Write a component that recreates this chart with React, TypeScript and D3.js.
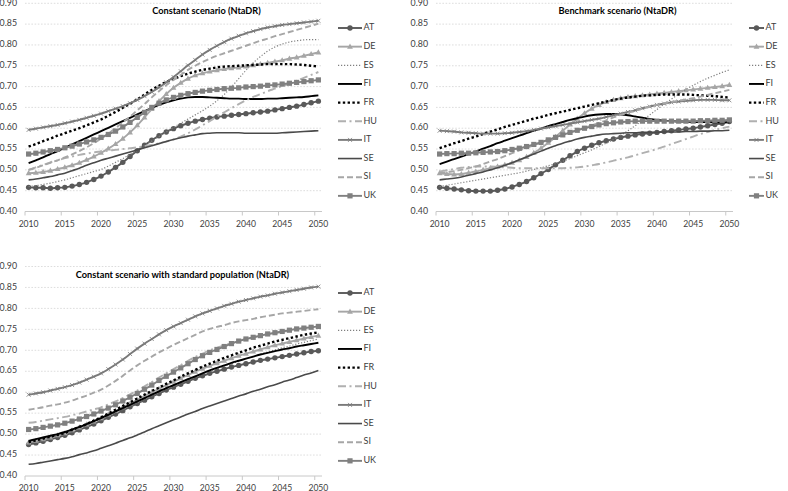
import React from "react";
import * as d3 from "d3";

const years = [2010,2011,2012,2013,2014,2015,2016,2017,2018,2019,2020,2021,2022,2023,2024,2025,2026,2027,2028,2029,2030,2031,2032,2033,2034,2035,2036,2037,2038,2039,2040,2041,2042,2043,2044,2045,2046,2047,2048,2049,2050];
const xTickYears = [2010,2015,2020,2025,2030,2035,2040,2045,2050];
const yTicks = [0.4,0.45,0.5,0.55,0.6,0.65,0.7,0.75,0.8,0.85,0.9];
const countries = ["AT","DE","ES","FI","FR","HU","IT","SE","SI","UK"];

// Constant scenario (NtaDR)
const cAT = [.458,.457,.457,.456,.457,.458,.461,.465,.470,.477,.485,.495,.506,.518,.532,.546,.559,.571,.582,.591,.599,.606,.612,.617,.621,.624,.627,.629,.631,.633,.635,.637,.639,.641,.644,.647,.650,.653,.657,.661,.665];
const cDE = [.492,.493,.495,.498,.502,.506,.511,.517,.524,.532,.541,.551,.562,.575,.590,.607,.626,.646,.665,.682,.697,.709,.719,.727,.732,.736,.739,.742,.744,.746,.748,.751,.754,.757,.760,.763,.767,.770,.774,.778,.782];
const cES = [.460,.462,.465,.468,.472,.476,.481,.486,.491,.496,.501,.509,.518,.527,.537,.547,.558,.569,.580,.591,.602,.612,.622,.632,.642,.653,.666,.681,.699,.719,.739,.757,.772,.785,.795,.802,.807,.810,.812,.813,.813];
const cFI = [.516,.523,.530,.538,.545,.553,.561,.569,.577,.585,.593,.601,.609,.617,.625,.633,.641,.649,.656,.662,.667,.671,.674,.675,.675,.674,.673,.672,.671,.671,.670,.670,.670,.671,.671,.672,.673,.674,.675,.677,.679];
const cFR = [.556,.562,.569,.575,.582,.588,.594,.600,.607,.614,.621,.630,.639,.649,.659,.669,.681,.692,.702,.711,.718,.725,.731,.736,.740,.743,.746,.748,.749,.750,.751,.752,.753,.754,.754,.754,.754,.753,.752,.750,.748];
const cHU = [.500,.506,.512,.518,.523,.528,.532,.536,.539,.542,.544,.546,.548,.550,.552,.554,.557,.560,.564,.568,.573,.580,.588,.597,.607,.617,.628,.638,.648,.658,.667,.675,.682,.689,.695,.701,.707,.714,.721,.728,.735];
const cIT = [.596,.599,.602,.605,.608,.612,.616,.620,.625,.630,.635,.641,.647,.653,.660,.668,.677,.687,.698,.710,.723,.737,.751,.764,.777,.788,.798,.807,.815,.822,.828,.833,.838,.842,.845,.848,.850,.852,.854,.856,.858];
const cSE = [.476,.478,.481,.484,.488,.492,.498,.504,.511,.517,.523,.528,.533,.538,.543,.548,.553,.558,.563,.568,.573,.577,.581,.584,.587,.588,.589,.589,.589,.589,.588,.588,.588,.588,.588,.589,.590,.591,.592,.593,.594];
const cSI = [.500,.505,.511,.517,.523,.530,.537,.545,.554,.564,.575,.587,.600,.614,.628,.643,.658,.674,.689,.703,.716,.728,.740,.750,.759,.767,.774,.780,.786,.792,.798,.804,.810,.815,.821,.826,.831,.836,.841,.846,.851];
const cUK = [.538,.540,.543,.546,.549,.553,.557,.562,.567,.572,.578,.585,.593,.603,.614,.626,.638,.650,.660,.668,.674,.679,.683,.686,.689,.691,.693,.695,.696,.697,.699,.700,.701,.703,.704,.706,.708,.710,.712,.714,.716];

// Benchmark scenario (NtaDR)
const bAT = [.458,.456,.454,.452,.450,.449,.449,.449,.451,.454,.459,.465,.472,.481,.491,.501,.512,.523,.534,.544,.552,.559,.565,.570,.574,.578,.581,.584,.586,.588,.590,.592,.594,.596,.598,.600,.603,.606,.609,.612,.616];
const bDE = [.492,.490,.489,.490,.493,.496,.500,.504,.508,.512,.517,.523,.531,.541,.552,.565,.579,.594,.609,.623,.636,.647,.656,.663,.668,.672,.675,.677,.679,.681,.683,.685,.687,.689,.691,.693,.695,.697,.699,.701,.704];
const bES = [.460,.463,.466,.469,.472,.475,.478,.481,.484,.487,.490,.493,.497,.501,.505,.510,.515,.521,.527,.534,.541,.548,.556,.564,.573,.583,.594,.606,.619,.632,.645,.658,.670,.682,.693,.703,.712,.720,.727,.734,.740];
const bFI = [.514,.520,.526,.532,.538,.544,.551,.557,.564,.570,.576,.582,.588,.594,.599,.605,.610,.615,.620,.624,.628,.631,.633,.634,.634,.633,.631,.628,.625,.622,.620,.618,.617,.616,.616,.615,.615,.615,.614,.614,.614];
const bFR = [.552,.558,.564,.569,.575,.580,.586,.592,.597,.603,.608,.613,.618,.623,.627,.632,.636,.640,.644,.648,.652,.656,.660,.664,.668,.671,.674,.676,.678,.679,.680,.681,.681,.681,.681,.680,.679,.678,.677,.675,.674];
const bHU = [.496,.499,.502,.505,.507,.508,.508,.508,.507,.506,.505,.504,.504,.504,.504,.504,.504,.504,.505,.506,.508,.511,.514,.518,.522,.526,.530,.535,.540,.545,.550,.556,.562,.568,.574,.580,.586,.591,.596,.600,.604];
const bIT = [.594,.593,.592,.590,.589,.588,.587,.587,.587,.588,.589,.591,.593,.596,.599,.602,.605,.608,.611,.614,.617,.620,.623,.627,.631,.635,.639,.643,.648,.652,.656,.659,.662,.664,.666,.667,.668,.668,.668,.667,.667];
const bSE = [.476,.478,.480,.483,.487,.491,.495,.500,.505,.511,.517,.524,.531,.538,.545,.552,.558,.564,.569,.574,.578,.581,.584,.586,.587,.588,.589,.589,.590,.590,.590,.591,.591,.591,.592,.592,.593,.593,.594,.594,.595];
const bSI = [.492,.494,.497,.500,.504,.508,.514,.520,.526,.533,.540,.547,.553,.559,.566,.572,.578,.584,.590,.595,.601,.607,.613,.619,.626,.632,.637,.642,.647,.652,.656,.660,.663,.666,.669,.672,.676,.680,.684,.688,.692];
const bUK = [.538,.539,.539,.540,.540,.541,.542,.543,.544,.546,.549,.552,.556,.561,.566,.572,.578,.584,.590,.595,.600,.604,.608,.611,.613,.615,.616,.617,.617,.617,.617,.617,.617,.617,.617,.617,.618,.618,.619,.619,.620];

// Constant scenario with standard population (NtaDR)
const sAT = [.475,.479,.483,.487,.492,.497,.503,.510,.517,.524,.532,.540,.548,.556,.565,.573,.581,.589,.597,.605,.612,.619,.626,.633,.639,.645,.650,.655,.660,.664,.668,.672,.676,.679,.682,.685,.688,.691,.694,.697,.699];
const sDE = [.480,.484,.488,.492,.497,.502,.509,.516,.523,.530,.538,.547,.555,.564,.573,.582,.591,.600,.608,.617,.625,.633,.641,.649,.656,.663,.669,.675,.681,.687,.692,.697,.702,.707,.712,.716,.720,.724,.728,.732,.735];
const sES = [.478,.482,.486,.490,.495,.500,.506,.513,.520,.527,.535,.543,.551,.559,.567,.575,.583,.591,.599,.607,.614,.621,.629,.636,.643,.650,.656,.662,.668,.674,.680,.685,.691,.696,.701,.706,.710,.715,.719,.723,.727];
const sFI = [.484,.488,.492,.496,.500,.505,.511,.517,.524,.531,.538,.546,.554,.562,.570,.578,.586,.594,.602,.610,.617,.624,.631,.638,.645,.652,.658,.664,.670,.675,.680,.685,.690,.694,.698,.702,.705,.709,.712,.715,.718];
const sFR = [.481,.485,.489,.494,.498,.503,.510,.517,.524,.532,.540,.549,.558,.567,.576,.585,.594,.603,.611,.620,.628,.637,.645,.653,.661,.668,.675,.682,.688,.694,.700,.706,.711,.716,.721,.725,.729,.733,.737,.740,.743];
const sHU = [.527,.529,.532,.535,.538,.541,.545,.549,.554,.559,.564,.571,.578,.586,.595,.604,.614,.624,.635,.645,.655,.665,.675,.684,.692,.700,.706,.712,.717,.722,.727,.731,.735,.738,.741,.744,.747,.750,.753,.755,.757];
const sIT = [.594,.597,.600,.604,.608,.612,.617,.623,.630,.637,.645,.655,.666,.678,.691,.704,.716,.727,.738,.748,.757,.765,.773,.781,.788,.794,.800,.806,.811,.816,.820,.824,.828,.831,.835,.838,.841,.844,.847,.850,.852];
const sSE = [.428,.430,.433,.436,.439,.442,.446,.451,.455,.460,.466,.472,.478,.485,.491,.498,.505,.513,.520,.527,.534,.541,.548,.554,.561,.567,.573,.579,.585,.591,.596,.602,.607,.613,.618,.624,.629,.635,.641,.646,.652];
const sSI = [.558,.561,.564,.568,.571,.575,.580,.586,.592,.599,.606,.616,.627,.639,.652,.664,.675,.685,.695,.704,.713,.721,.729,.737,.745,.751,.756,.760,.765,.769,.772,.775,.779,.782,.785,.788,.790,.792,.794,.796,.798];
const sUK = [.511,.513,.516,.519,.522,.526,.531,.536,.542,.548,.555,.562,.570,.579,.588,.597,.607,.617,.628,.638,.648,.658,.668,.678,.687,.695,.702,.709,.716,.722,.727,.731,.735,.739,.742,.745,.748,.751,.753,.755,.757];

type Style = { color: string; width: number; dash?: string; marker?: string };
const styles: Record<string, Style> = {
  AT: { color: "#595959", width: 1.9, marker: "circle" },
  DE: { color: "#a6a6a6", width: 1.9, marker: "triangle" },
  ES: { color: "#7f7f7f", width: 1.2, dash: "1.2 1.8" },
  FI: { color: "#000000", width: 1.9 },
  FR: { color: "#000000", width: 2.4, dash: "2.4 2.4" },
  HU: { color: "#b0b0b0", width: 1.9, dash: "8 3.5 2 3.5" },
  IT: { color: "#7a7a7a", width: 1.9, marker: "x" },
  SE: { color: "#4a4a4a", width: 1.6 },
  SI: { color: "#a6a6a6", width: 1.9, dash: "6 3" },
  UK: { color: "#808080", width: 1.9, marker: "square" },
};

const FONT = "Lato, 'DejaVu Sans', sans-serif";
const TEXT = "#404040";

function Marker({ type, x, y, color }: { type?: string; x: number; y: number; color: string }) {
  if (type === "circle") return <circle cx={x} cy={y} r={2.7} fill={color} />;
  if (type === "square") return <rect x={x - 2.6} y={y - 2.6} width={5.2} height={5.2} fill={color} />;
  if (type === "triangle") return <path d={`M${x},${y - 3.1}L${x + 2.9},${y + 2}L${x - 2.9},${y + 2}Z`} fill={color} />;
  if (type === "x") return <path d={`M${x - 2},${y - 2}L${x + 2},${y + 2}M${x - 2},${y + 2}L${x + 2},${y - 2}`} stroke={color} strokeWidth={0.8} />;
  return null;
}

type PanelProps = {
  title: string; titleX: number; titleY: number;
  data: Record<string, number[]>;
  left: number; right: number; top: number; bottom: number;
  legendX: number; legendLen: number; legendY: number;
};

function Panel(p: PanelProps) {
  const x = d3.scaleBand<number>().domain(years).range([p.left, p.right]);
  const bw = x.bandwidth();
  const cx = (yr: number) => (x(yr) as number) + bw / 2;
  const y = d3.scaleLinear().domain([0.4, 0.9]).range([p.bottom, p.top]);
  const line = d3.line<number>().x((_, i) => cx(years[i])).y((v) => y(v)).curve(d3.curveMonotoneX);
  return (
    <g>
      {yTicks.map((t) => (
        <g key={t}>
          {t > 0.41 && <line x1={p.left} x2={p.right} y1={y(t)} y2={y(t)} stroke="#d4d4d4" strokeWidth={0.8} strokeDasharray="1.6 1.6" />}
          <text x={p.left - 8} y={y(t)} textAnchor="end" dominantBaseline="middle" fontSize={8.8} fill={TEXT} fontFamily={FONT}>{t.toFixed(2)}</text>
        </g>
      ))}
      <line x1={p.left} x2={p.right} y1={p.bottom} y2={p.bottom} stroke="#c8c8c8" strokeWidth={1} />
      {xTickYears.map((yr) => (
        <g key={yr}>
          <line x1={x(yr) as number} x2={x(yr) as number} y1={p.bottom} y2={p.bottom + 4} stroke="#c8c8c8" strokeWidth={1} />
          <text x={cx(yr)} y={p.bottom + 13} textAnchor="middle" dominantBaseline="middle" fontSize={8.6} fill={TEXT} fontFamily={FONT}>{yr}</text>
        </g>
      ))}
      <text x={p.titleX} y={p.titleY} textAnchor="middle" dominantBaseline="middle" fontSize={9.2} fontWeight="bold" fill="#000" fontFamily={FONT}>{p.title}</text>
      {countries.map((c) => {
        const s = styles[c];
        return (
          <g key={c}>
            <path d={line(p.data[c]) || ""} fill="none" stroke={s.color} strokeWidth={s.width} strokeDasharray={s.dash} />
            {s.marker && p.data[c].map((v, i) => <Marker key={i} type={s.marker} x={cx(years[i])} y={y(v)} color={s.color} />)}
          </g>
        );
      })}
      {countries.map((c, i) => {
        const s = styles[c];
        const ly = p.legendY + i * 18.65;
        return (
          <g key={"lg" + c}>
            <line x1={p.legendX} x2={p.legendX + p.legendLen} y1={ly} y2={ly} stroke={s.color} strokeWidth={s.width} strokeDasharray={s.dash} />
            <Marker type={s.marker} x={p.legendX + p.legendLen / 2} y={ly} color={s.color} />
            <text x={p.legendX + p.legendLen + 1.5} y={ly} dominantBaseline="middle" fontSize={9} fill={TEXT} fontFamily={FONT}>{c}</text>
          </g>
        );
      })}
    </g>
  );
}

export default function App() {
  const constant = { AT: cAT, DE: cDE, ES: cES, FI: cFI, FR: cFR, HU: cHU, IT: cIT, SE: cSE, SI: cSI, UK: cUK };
  const bench = { AT: bAT, DE: bDE, ES: bES, FI: bFI, FR: bFR, HU: bHU, IT: bIT, SE: bSE, SI: bSI, UK: bUK };
  const stdPop = { AT: sAT, DE: sDE, ES: sES, FI: sFI, FR: sFR, HU: sHU, IT: sIT, SE: sSE, SI: sSI, UK: sUK };
  return (
    <svg width={788} height={491} style={{ position: "absolute", left: 0, top: 0, background: "#fff" }}>
      <rect width={788} height={491} fill="#fff" />
      <Panel title="Constant scenario (NtaDR)" titleX={206.5} titleY={12} data={constant}
        left={25} right={322} top={3.3} bottom={211.5} legendX={338} legendLen={24} legendY={28} />
      <Panel title="Benchmark scenario (NtaDR)" titleX={617.5} titleY={12} data={bench}
        left={436} right={733} top={3.3} bottom={211.5} legendX={749} legendLen={15} legendY={28} />
      <Panel title="Constant scenario with standard population (NtaDR)" titleX={182.5} titleY={276} data={stdPop}
        left={25} right={322} top={266.5} bottom={476} legendX={338} legendLen={24} legendY={293} />
    </svg>
  );
}
